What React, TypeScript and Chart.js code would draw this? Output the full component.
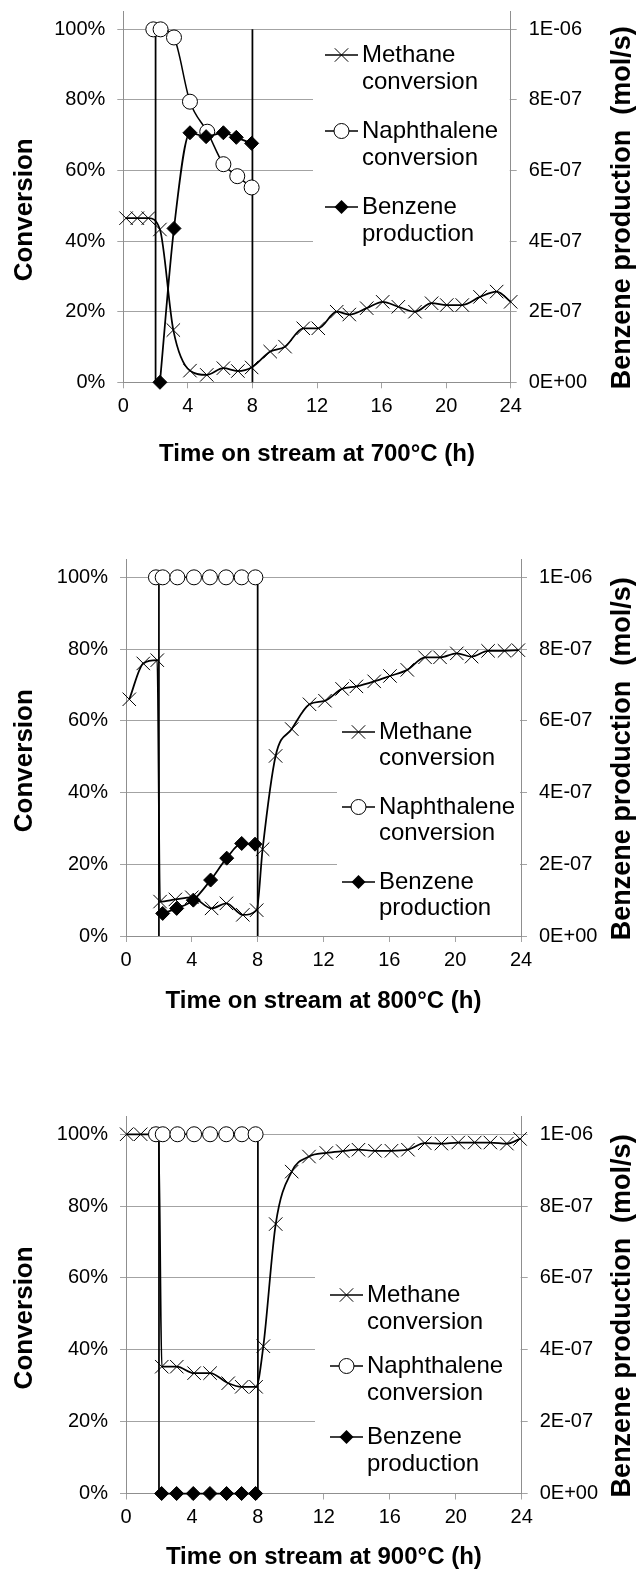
import React, { useEffect, useRef } from 'react';
import { Chart, registerables } from 'chart.js';

Chart.register(...registerables);

const FONT = "'Liberation Sans', Arial, Helvetica, sans-serif";
const GRID = '#a3a3a3';
const AXIS = '#8f8f8f';

// ---------- shared labels ----------
const xTickValues = [0, 4, 8, 12, 16, 20, 24];
const legendLabels = ['Methane conversion', 'Naphthalene conversion', 'Benzene production'];
const yLeftTitle = 'Conversion';
const yRightTitle = 'Benzene production  (mol/s)';
const switchTimes = [2, 8];

// ---------- 700 °C ----------
const methane700T = [0.17, 0.87, 1.55, 2.27, 3.1, 4.13, 5.17, 6.2, 7.1, 7.95, 9.1, 10.02, 11.15, 12.08, 13.22, 14.0, 15.08, 16.07, 17.04, 18.07, 19.1, 20.04, 21.0, 22.1, 23.13, 24.0];
const methane700V = [46.5, 46.5, 46.5, 43.3, 14.8, 3.3, 2.1, 4.0, 3.2, 4.2, 8.7, 10.1, 15.3, 15.3, 20.0, 19.2, 21.0, 22.8, 21.4, 20.0, 22.4, 21.9, 21.9, 24.2, 25.7, 22.8];
const naph700T = [1.86, 2.31, 3.14, 4.13, 5.2, 6.2, 7.06, 7.95];
const naph700V = [100, 100, 97.7, 79.5, 71.0, 61.8, 58.4, 55.2];
const benz700T = [2.27, 3.14, 4.13, 5.13, 6.2, 7.0, 7.95];
const benz700V = [0, 4.36e-7, 7.07e-7, 6.96e-7, 7.07e-7, 6.94e-7, 6.77e-7];

// ---------- 800 °C ----------
const methane800T = [0.2, 1.05, 1.9, 2.07, 3.0, 4.0, 5.2, 6.1, 7.1, 7.94, 8.3, 9.09, 10.07, 11.15, 12.09, 13.13, 14.0, 15.08, 16.04, 17.09, 18.17, 19.08, 20.1, 21.0, 22.0, 23.0, 23.84];
const methane800V = [66, 76, 76.9, 9.6, 10.2, 10.8, 7.7, 9.1, 5.9, 7.2, 24.2, 50.2, 57.7, 64.6, 65.6, 68.9, 69.6, 71.0, 72.5, 74.2, 77.7, 77.7, 78.8, 77.9, 79.5, 79.5, 79.7];
const naph800T = [1.82, 2.23, 3.12, 4.13, 5.1, 6.08, 7.03, 7.86];
const naph800V = [100, 100, 100, 100, 100, 100, 100, 100];
const benz800T = [2.23, 3.08, 4.09, 5.14, 6.12, 7.03, 7.84];
const benz800V = [6.3e-8, 7.7e-8, 1.0e-7, 1.56e-7, 2.17e-7, 2.58e-7, 2.56e-7];

// ---------- 900 °C ----------
const methane900T = [0.04, 0.89, 1.97, 2.17, 3.08, 4.13, 5.1, 6.2, 7.02, 7.89, 8.33, 9.08, 10.05, 11.1, 12.15, 13.15, 14.1, 15.1, 16.1, 17.1, 18.12, 19.13, 20.15, 21.15, 22.1, 23.1, 23.9];
const methane900V = [100, 100, 100, 35.3, 35.3, 33.5, 33.5, 30.7, 29.7, 29.7, 41.0, 75.0, 89.6, 93.8, 94.8, 95.3, 95.7, 95.4, 95.4, 95.7, 97.5, 97.4, 97.7, 97.7, 97.7, 97.4, 98.7];
const naph900T = [1.82, 2.23, 3.12, 4.13, 5.1, 6.08, 7.03, 7.86];
const naph900V = [100, 100, 100, 100, 100, 100, 100, 100];
const benz900T = [2.16, 3.07, 4.08, 5.09, 6.1, 7.01, 7.86];
const benz900V = [0, 0, 0, 0, 0, 0, 0];

type Legend = { boxLeft: number; boxTop: number; boxBottom: number; symX0: number; symX1: number; textX: number; row0: number; rowGap: number; lineGap: number };
type Panel = {
  mT: number[]; mV: number[]; nT: number[]; nV: number[]; bT: number[]; bV: number[];
  xTitle: string; top: number; height: number;
  area: { left: number; right: number; top: number; bottom: number };
  xTitleOffset: number; rightTitleX: number; leftTitleX: number;
  legend: Legend;
};

const panels: Panel[] = [
  {
    mT: methane700T, mV: methane700V, nT: naph700T, nV: naph700V, bT: benz700T, bV: benz700V,
    xTitle: 'Time on stream at 700°C (h)', top: 0, height: 500,
    area: { left: 123.3, right: 510.7, top: 11.7, bottom: 382.3 },
    xTitleOffset: 72, rightTitleX: 623, leftTitleX: 25,
    legend: { boxLeft: 313, boxTop: 36, boxBottom: 262, symX0: 325, symX1: 358, textX: 362, row0: 55, rowGap: 76, lineGap: 27 },
  },
  {
    mT: methane800T, mV: methane800V, nT: naph800T, nV: naph800V, bT: benz800T, bV: benz800V,
    xTitle: 'Time on stream at 800°C (h)', top: 520, height: 510,
    area: { left: 126, right: 521, top: 39.4, bottom: 416 },
    xTitleOffset: 65, rightTitleX: 623, leftTitleX: 25,
    legend: { boxLeft: 337, boxTop: 186, boxBottom: 406, symX0: 342, symX1: 375, textX: 379, row0: 212, rowGap: 75, lineGap: 26.5 },
  },
  {
    mT: methane900T, mV: methane900V, nT: naph900T, nV: naph900V, bT: benz900T, bV: benz900V,
    xTitle: 'Time on stream at 900°C (h)', top: 1060, height: 512,
    area: { left: 126, right: 521.7, top: 56.3, bottom: 433.5 },
    xTitleOffset: 63.5, rightTitleX: 623, leftTitleX: 25,
    legend: { boxLeft: 315, boxTop: 210, boxBottom: 422, symX0: 330, symX1: 363, textX: 367, row0: 235, rowGap: 71, lineGap: 27 },
  },
];

const pts = (t: number[], v: number[]) => t.map((x, i) => ({ x, y: v[i] }));

const fmtExp = (v: number) => {
  if (Math.abs(v) < 1e-15) return '0E+00';
  const e = Math.floor(Math.log10(v) + 1e-9);
  const m = Math.round(v / Math.pow(10, e));
  return `${m}E${e < 0 ? '-' : '+'}${String(Math.abs(e)).padStart(2, '0')}`;
};

function drawMarker(ctx: CanvasRenderingContext2D, kind: string, x: number, y: number) {
  ctx.save();
  ctx.strokeStyle = '#000';
  ctx.lineWidth = 1;
  if (kind === 'cross') {
    const d = 9.5 * Math.SQRT1_2;
    ctx.beginPath();
    ctx.moveTo(x - d, y - d); ctx.lineTo(x + d, y + d);
    ctx.moveTo(x - d, y + d); ctx.lineTo(x + d, y - d);
    ctx.stroke();
  } else if (kind === 'circle') {
    ctx.fillStyle = '#fff';
    ctx.beginPath(); ctx.arc(x, y, 7.5, 0, Math.PI * 2); ctx.fill(); ctx.stroke();
  } else {
    ctx.fillStyle = '#000';
    ctx.beginPath();
    ctx.moveTo(x - 7, y); ctx.lineTo(x, y - 7); ctx.lineTo(x + 7, y); ctx.lineTo(x, y + 7);
    ctx.closePath(); ctx.fill();
  }
  ctx.restore();
}

const markerKinds = ['cross', 'circle', 'diamond'];

const legendPlugin = {
  id: 'boxLegend',
  beforeDatasetsDraw(chart: any, _args: any, opts: any) {
    const L: Legend = opts.cfg;
    if (!L) return;
    const { ctx, chartArea } = chart;
    ctx.save();
    ctx.fillStyle = '#fff';
    ctx.fillRect(L.boxLeft, L.boxTop, chartArea.right - 1 - L.boxLeft, L.boxBottom - L.boxTop);
    ctx.font = `24px ${FONT}`;
    ctx.textBaseline = 'middle';
    ctx.textAlign = 'left';
    legendLabels.forEach((label, i) => {
      const y = L.row0 + i * L.rowGap;
      ctx.strokeStyle = '#000';
      ctx.lineWidth = 1.5;
      ctx.beginPath(); ctx.moveTo(L.symX0, y); ctx.lineTo(L.symX1, y); ctx.stroke();
      drawMarker(ctx, markerKinds[i], (L.symX0 + L.symX1) / 2, y);
      const words = label.split(' ');
      ctx.fillStyle = '#000';
      ctx.fillText(words[0], L.textX, y);
      ctx.fillText(words.slice(1).join(' '), L.textX, y + L.lineGap);
    });
    ctx.restore();
  },
};

const titlePlugin = {
  id: 'axisTitles',
  afterDraw(chart: any, _args: any, opts: any) {
    const { ctx, chartArea, scales } = chart;
    const yMid = (scales.y.getPixelForValue(0) + scales.y.getPixelForValue(100)) / 2 + 2;
    ctx.save();
    ctx.fillStyle = '#000';
    ctx.textAlign = 'center';
    ctx.textBaseline = 'middle';
    ctx.font = `bold 24px ${FONT}`;
    ctx.fillText(opts.xTitle, (chartArea.left + chartArea.right) / 2, chartArea.bottom + opts.xTitleOffset);
    ctx.font = `bold 26px ${FONT}`;
    ctx.save();
    ctx.translate(opts.leftTitleX, yMid + 2);
    ctx.rotate(-Math.PI / 2);
    ctx.fillText(yLeftTitle, 0, 0);
    ctx.restore();
    ctx.font = `bold 27px ${FONT}`;
    ctx.save();
    ctx.translate(opts.rightTitleX, yMid);
    ctx.rotate(-Math.PI / 2);
    ctx.fillText(yRightTitle, 0, 0);
    ctx.restore();
    ctx.restore();
  },
};

function zeroPad(s: any) {
  s.paddingLeft = 0; s.paddingRight = 0; s.paddingTop = 0; s.paddingBottom = 0;
}

function makeConfig(p: Panel): any {
  const tickFont = { family: FONT, size: 20 };
  const lineCommon = {
    borderColor: '#000',
    cubicInterpolationMode: 'monotone',
    clip: false,
    pointBorderColor: '#000',
    pointBorderWidth: 1,
  };
  return {
    type: 'line',
    data: {
      datasets: [
        {
          ...lineCommon, label: legendLabels[2], data: pts(p.bT, p.bV), yAxisID: 'y1',
          borderWidth: 1.75, pointStyle: 'rectRot', pointRadius: 7, pointBackgroundColor: '#000', order: 0,
        },
        {
          ...lineCommon, label: legendLabels[1], data: pts(p.nT, p.nV), yAxisID: 'y',
          borderWidth: 1.5, pointStyle: 'circle', pointRadius: 7.5, pointBackgroundColor: '#fff', order: 1,
        },
        {
          ...lineCommon, label: legendLabels[0], data: pts(p.mT, p.mV), yAxisID: 'y',
          borderWidth: 1.75, pointStyle: 'crossRot', pointRadius: 9.5, pointBackgroundColor: '#000', order: 2,
        },
        ...switchTimes.map((t) => ({
          label: '', data: [{ x: t, y: 0 }, { x: t, y: 100 }], yAxisID: 'y',
          borderColor: '#000', borderWidth: 1.75, pointRadius: 0, order: 3, clip: false,
        })),
      ],
    },
    options: {
      responsive: false,
      animation: false,
      events: [],
      layout: { padding: { top: p.area.top, left: 0, right: 0, bottom: 0 } },
      scales: {
        x: {
          type: 'linear', min: 0, max: 24,
          afterBuildTicks: (s: any) => { s.ticks = xTickValues.map((v) => ({ value: v })); },
          ticks: { stepSize: 4, font: tickFont, color: '#000', padding: 6, maxRotation: 0, autoSkip: false },
          grid: { drawOnChartArea: false, drawTicks: true, tickLength: 6, color: GRID },
          border: { display: true, color: AXIS, width: 1 },
          afterFit: (s: any) => { s.height = p.height - p.area.bottom; zeroPad(s); },
        },
        y: {
          type: 'linear', position: 'left', min: 0, max: 105,
          ticks: { stepSize: 20, includeBounds: false, font: tickFont, color: '#000', padding: 12, callback: (v: number) => `${v}%` },
          grid: { color: GRID, tickLength: 6 },
          border: { display: true, color: AXIS, width: 1 },
          afterFit: (s: any) => { s.width = p.area.left; zeroPad(s); },
        },
        y1: {
          type: 'linear', position: 'right', min: 0, max: 1.05e-6,
          ticks: { stepSize: 2e-7, includeBounds: false, font: tickFont, color: '#000', padding: 12, callback: (v: number) => fmtExp(v) },
          grid: { drawOnChartArea: false, drawTicks: true, tickLength: 6, color: GRID },
          border: { display: true, color: AXIS, width: 1 },
          afterFit: (s: any) => { s.width = 644 - p.area.right; zeroPad(s); },
        },
      },
      plugins: {
        legend: { display: false },
        tooltip: { enabled: false },
        boxLegend: { cfg: p.legend },
        axisTitles: { xTitle: p.xTitle, xTitleOffset: p.xTitleOffset, rightTitleX: p.rightTitleX, leftTitleX: p.leftTitleX },
      },
    },
    plugins: [legendPlugin, titlePlugin],
  };
}

function PanelChart({ p }: { p: Panel }) {
  const ref = useRef<HTMLCanvasElement>(null);
  useEffect(() => {
    if (!ref.current) return;
    const chart = new Chart(ref.current, makeConfig(p));
    return () => chart.destroy();
  }, [p]);
  return (
    <div style={{ position: 'absolute', left: 0, top: p.top, width: 644, height: p.height }}>
      <canvas ref={ref} width={644} height={p.height} style={{ display: 'block' }} />
    </div>
  );
}

export default function App() {
  return (
    <div style={{ position: 'absolute', left: 0, top: 0, width: 644, height: 1572, background: '#fff' }}>
      {panels.map((p, i) => (
        <PanelChart key={i} p={p} />
      ))}
    </div>
  );
}
